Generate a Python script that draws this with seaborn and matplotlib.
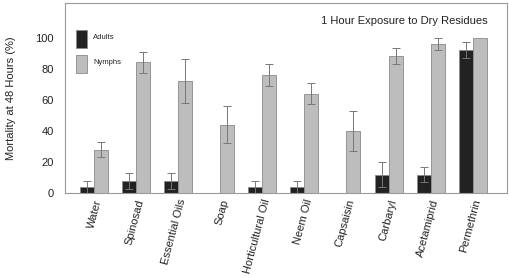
import pandas as pd
import numpy as np
import seaborn as sns
import matplotlib.pyplot as plt

# Values
treatments = ['Water', 'Spinosad', 'Essential Oils', 'Soap', 'Horticultural Oil',
              'Neem Oil', 'Capsaisin', 'Carbaryl', 'Acetamiprid', 'Permethrin']
adults = [4, 8, 8, 0, 4, 4, 0, 12, 12, 92]
adults_err = [4, 5, 5, 0, 4, 4, 0, 8, 5, 5]
nymphs = [28, 84, 72, 44, 76, 64, 40, 88, 96, 100]
nymphs_err = [5, 7, 14, 12, 7, 7, 13, 5, 4, 0]
stages = ['Adults', 'Nymphs']

df = pd.DataFrame({
    'Treatment': treatments * 2,
    'Stage': [stages[0]] * len(treatments) + [stages[1]] * len(treatments),
    'Mortality': adults + nymphs,
    'Err': adults_err + nymphs_err,
})

sns.set_style('white')
plt.rcParams['font.family'] = ['Liberation Sans', 'DejaVu Sans']

fig, ax = plt.subplots(figsize=(5.1, 2.76), dpi=100)
fig.subplots_adjust(left=0.127, right=0.994, top=0.988, bottom=0.30)

sns.barplot(data=df, x='Treatment', y='Mortality', hue='Stage', ax=ax,
            palette={'Adults': '#222222', 'Nymphs': '#bdbdbd'},
            width=0.66, errorbar=None, edgecolor='#8a8a8a', linewidth=0.6)

# error bars at the bar centres
for cont, st in zip(ax.containers, stages):
    sub = df[df['Stage'] == st]
    for patch, (_, row) in zip(cont.patches, sub.iterrows()):
        if row['Err'] > 0:
            xc = patch.get_x() + patch.get_width() / 2
            ax.errorbar(xc, row['Mortality'], yerr=row['Err'], fmt='none',
                        ecolor='#777777', elinewidth=0.7, capsize=3, capthick=0.7)

ax.set_ylim(0, 122)
ax.set_xlim(-0.69, 9.81)
ax.set_yticks([0, 20, 40, 60, 80, 100])
ax.tick_params(axis='both', length=0, labelsize=8, colors='#222222')
ax.tick_params(axis='y', pad=8)
ax.set_xticks(range(len(treatments)))
ax.set_xticklabels(treatments, rotation=75, ha='right', rotation_mode='anchor', fontsize=8)
ax.set_xlabel('')
ax.set_ylabel('Mortality at 48 Hours (%)', fontsize=8, color='#222222', labelpad=14)

for s in ax.spines.values():
    s.set_color('#9a9a9a')
    s.set_linewidth(0.8)

ax.text(0.957, 0.905, '1 Hour Exposure to Dry Residues', transform=ax.transAxes,
        ha='right', va='center', fontsize=8, color='#222222')

leg = ax.legend(loc='upper left', bbox_to_anchor=(0.025, 0.86), frameon=False,
                fontsize=5.5, handlelength=1.45, handleheight=3.3,
                labelspacing=0.9, handletextpad=0.8, borderaxespad=0.0,
                borderpad=0.0)
for t in leg.get_texts():
    t.set_va('bottom')

plt.savefig('out.png', dpi=100)
